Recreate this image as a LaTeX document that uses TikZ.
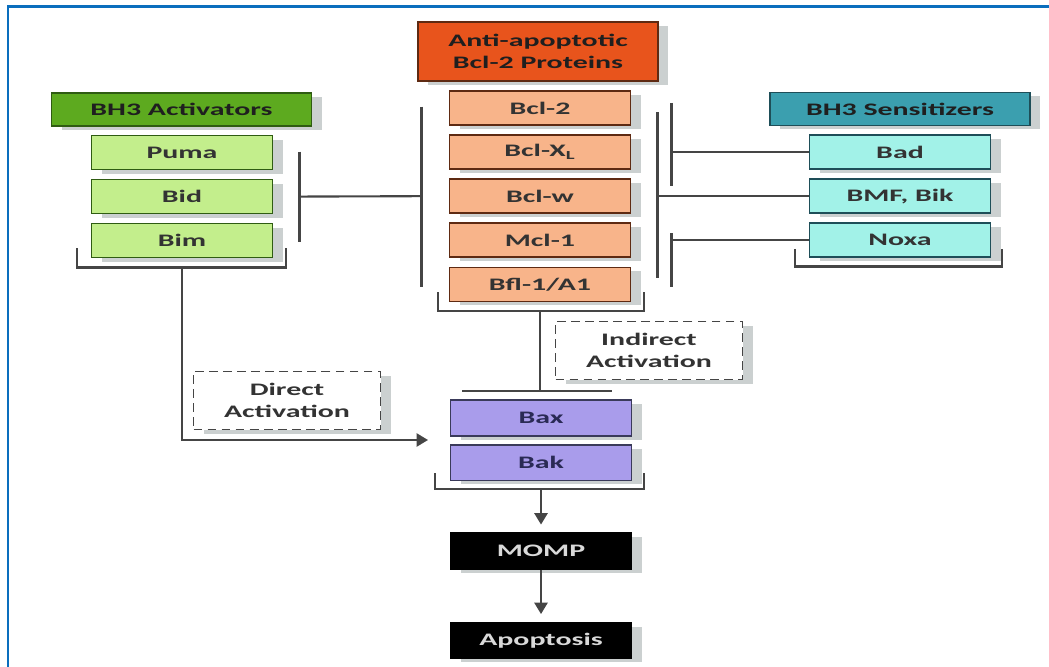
\documentclass[tikz,border=0pt]{standalone}
\usepackage{fontspec}
\newfontfamily\lblfont{Carlito}[FakeStretch=1.7]
\usetikzlibrary{positioning, arrows.meta, calc, shadows}
\definecolor{frameblue}{HTML}{0A6EBD}
\definecolor{linegray}{HTML}{454545}
\definecolor{shgray}{HTML}{CBD0D0}
\definecolor{actgreen}{HTML}{5DAA1F}
\definecolor{actdark}{HTML}{2F5C12}
\definecolor{actlight}{HTML}{C3EE8C}
\definecolor{antired}{HTML}{E8541C}
\definecolor{antidark}{HTML}{5E2A12}
\definecolor{antipeach}{HTML}{F8B48A}
\definecolor{senteal}{HTML}{3B9FAF}
\definecolor{sendark}{HTML}{1E4E58}
\definecolor{senaqua}{HTML}{A2F2E8}
\definecolor{baxlav}{HTML}{A99CEB}
\definecolor{baxdark}{HTML}{3A3A5A}
\definecolor{baxtext}{HTML}{2A2A55}

\begin{document}
\begin{tikzpicture}[
    box/.style={line width=0.9pt, font=\lblfont\bfseries\fontsize{10}{12.5}\selectfont,
                align=center, inner sep=1pt, minimum width=3.62cm, minimum height=0.68cm,
                text=black!80,
                general shadow={fill=shgray, draw=none, shadow xshift=0.2cm, shadow yshift=-0.08cm}},
    hdr/.style={box, minimum width=5.2cm, minimum height=0.66cm, text=black!88},
    actbox/.style={box, fill=actlight, draw=actdark},
    antibox/.style={box, fill=antipeach, draw=antidark},
    senbox/.style={box, fill=senaqua, draw=sendark},
    baxbox/.style={box, fill=baxlav, draw=baxdark, text=baxtext, minimum height=0.71cm},
    endbox/.style={box, fill=black, draw=black, text=white!85!black, minimum height=0.71cm},
    note/.style={box, draw=linegray, fill=white, dash pattern=on 5pt off 3pt,
                 minimum width=3.74cm, minimum height=1.16cm},
    edg/.style={draw=linegray, line width=1.2pt},
    bar/.style={draw=linegray, line width=1.5pt},
    arr/.style={edg, -{Triangle[length=6.5pt, width=7.5pt]}},
    node distance=0.17cm]
    \useasboundingbox (0,0) rectangle (20.98,-13.34);
    \draw[frameblue, line width=1.3pt] (0.16,-13.34) |- (20.98,-0.13);

    % activators
    \node[hdr, fill=actgreen, draw=actdark] (act) at (3.63,-2.19) {BH3 Activators};
    \node[actbox] (puma) at (3.64,-3.05) {Puma};
    \node[actbox, below=of puma] (bid) {Bid};
    \node[actbox, below=of bid] (bim) {Bim};

    % anti-apoptotic
    \node[hdr, fill=antired, draw=antidark, minimum width=4.8cm, minimum height=1.18cm] (anti) at (10.76,-1.03) {Anti-apoptotic\\Bcl-2 Proteins};
    \node[antibox] (bcl2) at (10.8,-2.16) {Bcl-2};
    \node[antibox, below=of bcl2] (bclxl) {Bcl-X\textsubscript{L}};
    \node[antibox, below=of bclxl] (bclw) {Bcl-w};
    \node[antibox, below=of bclw] (mcl1) {Mcl-1};
    \node[antibox, below=of mcl1] (bfl) {Bfl-1/A1};

    % sensitizers
    \node[hdr, fill=senteal, draw=sendark] (sens) at (18.0,-2.18) {BH3 Sensitizers};
    \node[senbox] (bad) at (18.0,-3.04) {Bad};
    \node[senbox, below=of bad] (bmf) {BMF, Bik};
    \node[senbox, below=of bmf] (noxa) {Noxa};

    % effectors
    \node[baxbox] (bax) at (10.82,-8.36) {Bax};
    \node[baxbox, below=0.15cm of bax] (bak) {Bak};
    \node[endbox] (momp) at (10.82,-11.02) {MOMP};
    \node[endbox] (apop) at (10.82,-12.81) {Apoptosis};
    \node[note] (direct) at (5.74,-8.01) {Direct\\Activation};
    \node[note] (indirect) at (12.98,-7.01) {Indirect\\Activation};

    \coordinate (actbar) at ([xshift=0.53cm]bid.east);
    \coordinate (antiL) at ([xshift=-0.55cm]bclw.west);
    \coordinate (antiR) at ([xshift=-3.03cm]bmf.west);
    \coordinate (badbar) at ([xshift=-2.75cm]bad.west);
    \coordinate (noxabar) at ([xshift=-2.75cm]noxa.west);
    \coordinate (bimfoot) at ([yshift=-0.18cm]bim.south);
    \coordinate (bflfoot) at ([yshift=-0.18cm]bfl.south);
    \coordinate (noxafoot) at ([yshift=-0.17cm]noxa.south);
    \coordinate (bakfoot) at ([yshift=-0.16cm]bak.south);
    \coordinate (baxbar) at ([yshift=-1.6cm]bflfoot);
    \coordinate (baxin) at (8.56,-8.8);

    % inhibition bars
    \draw[bar] ([yshift=0.9cm]actbar) -- ([yshift=-0.9cm]actbar);
    \draw[bar] ([yshift=1.79cm]antiL) -- ([yshift=-1.81cm]antiL);
    \draw[bar] ([yshift=1.68cm]antiR) -- ([yshift=-1.64cm]antiR);
    \draw[bar] ([yshift=0.98cm]badbar) -- ([yshift=-0.68cm]badbar);
    \draw[bar] ([yshift=0.14cm]noxabar) -- ([yshift=-0.94cm]noxabar);
    \draw[bar] ([xshift=-1.56cm]baxbar) -- ([xshift=1.44cm]baxbar);

    % brackets
    \draw[edg] ([shift={(-0.27cm,0.2cm)}]bim.south west) |- (bimfoot) -| ([shift={(0.26cm,0.2cm)}]bim.south east);
    \draw[edg] ([shift={(-0.22cm,0.2cm)}]bfl.south west) |- (bflfoot) -| ([shift={(0.26cm,0.2cm)}]bfl.south east);
    \draw[edg] ([shift={(-0.28cm,0.18cm)}]noxa.south west) |- (noxafoot) -| ([shift={(0.22cm,0.18cm)}]noxa.south east);
    \draw[edg] ([shift={(-0.3cm,0.16cm)}]bak.south west) |- (bakfoot) -| ([shift={(0.24cm,0.16cm)}]bak.south east);

    % links
    \draw[edg] (actbar) -- (antiL);
    \draw[edg] (antiR) -- (bmf);
    \draw[edg] (badbar) -- (bad);
    \draw[edg] (noxabar) -- (noxa);
    \draw[edg] (bflfoot) -- (baxbar);
    \draw[arr] (bimfoot) |- (baxin);
    \draw[arr, shorten >=4.5pt] (bakfoot) -- (momp);
    \draw[arr, shorten >=4.5pt] (momp) -- (apop);
\end{tikzpicture}
\end{document}
